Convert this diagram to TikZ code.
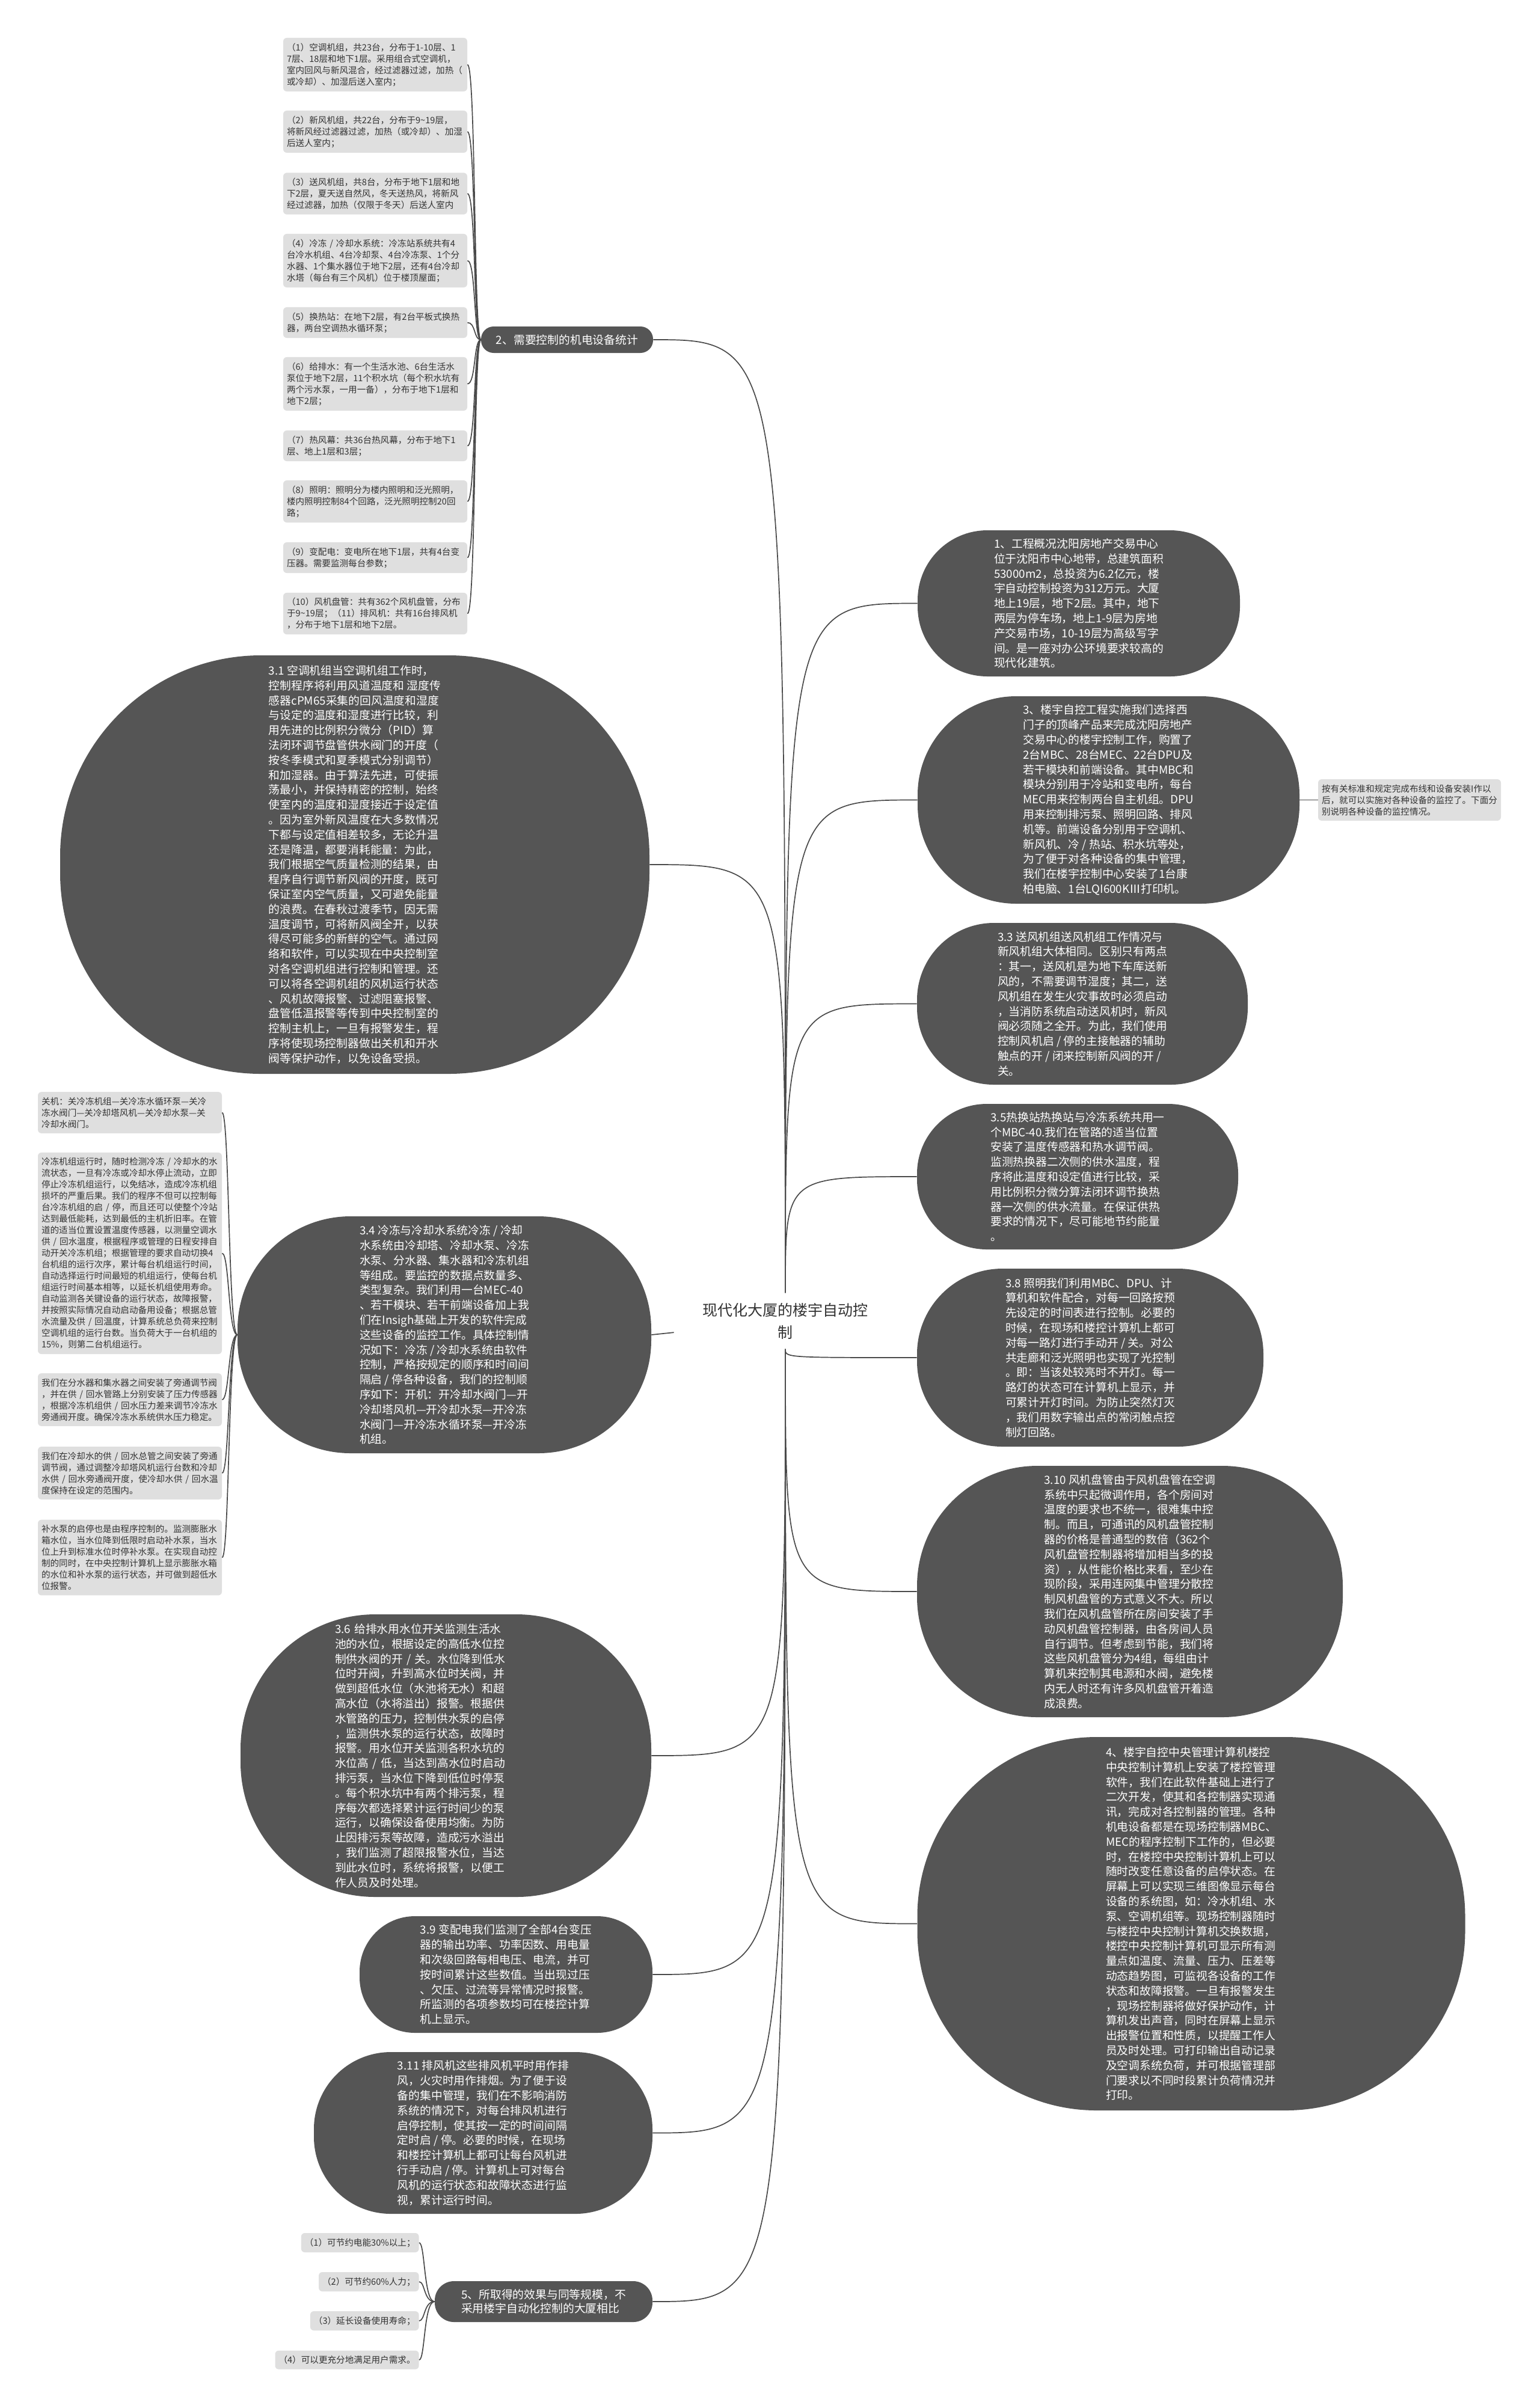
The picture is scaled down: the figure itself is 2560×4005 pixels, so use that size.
\documentclass[tikz,border=0pt]{standalone}
\usepackage{fontspec}
\setmainfont{Noto Sans CJK SC}
\definecolor{darkfill}{HTML}{555555}
\definecolor{leaffill}{HTML}{DFDFDF}
\definecolor{leaftext}{HTML}{333333}
\definecolor{linkgray}{HTML}{4A4A4A}
\def\darkfont{\fontsize{9.4}{12.4}\selectfont}
\def\leaffont{\fontsize{7.3}{9.5}\selectfont}
\def\rootfont{\fontsize{12.5}{18.5}\selectfont}

\begin{document}
\begin{tikzpicture}[x=0.5pt,y=-0.5pt,
    link/.style={draw=linkgray,line width=0.85pt},
    mainbox/.style n args={3}{fill=darkfill,text=white,align=left,font=\darkfont,
        inner sep=0pt,minimum width=#1,minimum height=#2,rounded corners=#3},
    leafbase/.style={fill=leaffill,text=leaftext,rounded corners=3pt,align=left,
        font=\leaffont,inner xsep=3pt,inner ysep=4.3pt},
    leaf/.style={leafbase,text width=147pt},
    rootnode/.style={text=leaftext,align=center,font=\rootfont,
        minimum width=185pt,minimum height=46.5pt}]

    \fill[white] (0,0) rectangle (2560,4005);
    \useasboundingbox (0,0) rectangle (2560,4005);

    % root
    \node[rootnode] (R) at (1306,2197) {现代化大厦的楼宇自动控\\制};

    % left side
    \node[mainbox={143pt}{22pt}{10.5pt}] (A2) at (943,565) {2、需要控制的机电设备统计};

    \node[mainbox={490pt}{348pt}{167pt}] (A31) at (590,1438) {3.1 空调机组当空调机组工作时，\\控制程序将利用风道温度和 湿度传\\感器cPM65采集的回风温度和湿度\\与设定的温度和湿度进行比较，利\\用先进的比例积分微分（PID）算\\法闭环调节盘管供水阀门的开度（\\按冬季模式和夏季模式分别调节）\\和加湿器。由于算法先进，可使振\\荡最小，并保持精密的控制，始终\\使室内的温度和湿度接近于设定值\\。因为室外新风温度在大多数情况\\下都与设定值相差较多，无论升温\\还是降温，都要消耗能量：为此，\\我们根据空气质量检测的结果，由\\程序自行调节新风阀的开度，既可\\保证室内空气质量，又可避免能量\\的浪费。在春秋过渡季节，因无需\\温度调节，可将新风阀全开，以获\\得尽可能多的新鲜的空气。通过网\\络和软件，可以实现在中央控制室\\对各空调机组进行控制和管理。还\\可以将各空调机组的风机运行状态\\、风机故障报警、过滤阻塞报警、\\盘管低温报警等传到中央控制室的\\控制主机上，一旦有报警发生，程\\序将使现场控制器做出关机和开水\\阀等保护动作，以免设备受损。};

    \node[mainbox={344pt}{197pt}{94pt}] (A34) at (739,2220) {3.4 冷冻与冷却水系统冷冻 / 冷却\\水系统由冷却塔、冷却水泵、冷冻\\水泵、分水器、集水器和冷冻机组\\等组成。要监控的数据点数量多、\\类型复杂。我们利用一台MEC-40\\、若干模块、若干前端设备加上我\\们在Insigh基础上开发的软件完成\\这些设备的监控工作。具体控制情\\况如下：冷冻 / 冷却水系统由软件\\控制，严格按规定的顺序和时间间\\隔启 / 停各种设备，我们的控制顺\\序如下：开机：开冷却水阀门—开\\冷却塔风机—开冷却水泵—开冷冻\\水阀门—开冷冻水循环泵—开冷冻\\机组。};

    \node[mainbox={341.5pt}{235pt}{112pt},text width=184.5pt,inner xsep=78.5pt] (A36) at (741.5,2920) {3.6 给排水用水位开关监测生活水\\池的水位，根据设定的高低水位控\\制供水阀的开 / 关。水位降到低水\\位时开阀，升到高水位时关阀，并\\做到超低水位（水池将无水）和超\\高水位（水将溢出）报警。根据供\\水管路的压力，控制供水泵的启停\\，监测供水泵的运行状态，故障时\\报警。用水位开关监测各积水坑的\\水位高 / 低，当达到高水位时启动\\排污泵，当水位下降到低位时停泵\\。每个积水坑中有两个排污泵，程\\序每次都选择累计运行时间少的泵\\运行，以确保设备使用均衡。为防\\止因排污泵等故障，造成污水溢出\\，我们监测了超限报警水位，当达\\到此水位时，系统将报警，以便工\\作人员及时处理。};

    \node[mainbox={243.5pt}{97pt}{46pt}] (A39) at (841.5,3284) {3.9 变配电我们监测了全部4台变压\\器的输出功率、功率因数、用电量\\和次级回路每相电压、电流，并可\\按时间累计这些数值。当出现过压\\、欠压、过流等异常情况时报警。\\所监测的各项参数均可在楼控计算\\机上显示。};

    \node[mainbox={281.5pt}{134.5pt}{64pt}] (A311) at (803.5,3547.5) {3.11 排风机这些排风机平时用作排\\风，火灾时用作排烟。为了便于设\\备的集中管理，我们在不影响消防\\系统的情况下，对每台排风机进行\\启停控制，使其按一定的时间间隔\\定时启 / 停。必要的时候，在现场\\和楼控计算机上都可让每台风机进\\行手动启 / 停。计算机上可对每台\\风机的运行状态和故障状态进行监\\视，累计运行时间。};

    \node[mainbox={181pt}{34pt}{16pt},font=\fontsize{9.4}{11.5}\selectfont] (A5) at (904,3828) {5、所取得的效果与同等规模，不\\采用楼宇自动化控制的大厦相比};

    % right side
    \node[mainbox={268pt}{121.5pt}{58pt}] (A1) at (1794,1003.5) {1、工程概况沈阳房地产交易中心\\位于沈阳市中心地带，总建筑面积\\53000m2，总投资为6.2亿元，楼\\宇自动控制投资为312万元。大厦\\地上19层，地下2层。其中，地下\\两层为停车场，地上1-9层为房地\\产交易市场，10-19层为高级写字\\间。是一座对办公环境要求较高的\\现代化建筑。};

    \node[mainbox={317.5pt}{172.5pt}{82pt}] (A3) at (1843.5,1330.5) {3、楼宇自控工程实施我们选择西\\门子的顶峰产品来完成沈阳房地产\\交易中心的楼宇控制工作，购置了\\2台MBC、28台MEC、22台DPU及\\若干模块和前端设备。其中MBC和\\模块分别用于冷站和变电所，每台\\MEC用来控制两台自主机组。DPU\\用来控制排污泵、照明回路、排风\\机等。前端设备分别用于空调机、\\新风机、冷 / 热站、积水坑等处，\\为了便于对各种设备的集中管理，\\我们在楼宇控制中心安装了1台康\\柏电脑、1台LQI600KⅢ打印机。};

    \node[leaf,text width=146pt] (N) at (2344,1330.5) {按有关标准和规定完成布线和设备安装I作以\\后，就可以实施对各种设备的监控了。下面分\\别说明各种设备的监控情况。};

    \node[mainbox={275pt}{134.5pt}{64pt}] (A33) at (1800,1669.5) {3.3 送风机组送风机组工作情况与\\新风机组大体相同。区别只有两点\\：其一，送风机是为地下车库送新\\风的，不需要调节湿度；其二，送\\风机组在发生火灾事故时必须启动\\，当消防系统启动送风机时，新风\\阀必须随之全开。为此，我们使用\\控制风机启 / 停的主接触器的辅助\\触点的开 / 闭来控制新风阀的开 /\\关。};

    \node[mainbox={267pt}{121pt}{58pt}] (A35) at (1792,1957) {3.5热换站热换站与冷冻系统共用一\\个MBC-40.我们在管路的适当位置\\安装了温度传感器和热水调节阀。\\监测热换器二次侧的供水温度，程\\序将此温度和设定值进行比较，采\\用比例积分微分算法闭环调节换热\\器一次侧的供水流量。在保证供热\\要求的情况下，尽可能地节约能量\\。};

    \node[mainbox={288pt}{148pt}{71pt}] (A38) at (1813,2258) {3.8 照明我们利用MBC、DPU、计\\算机和软件配合，对每一回路按预\\先设定的时间表进行控制。必要的\\时候，在现场和楼控计算机上都可\\对每一路灯进行手动开 / 关。对公\\共走廊和泛光照明也实现了光控制\\。即：当该处较亮时不开灯。每一\\路灯的状态可在计算机上显示，并\\可累计开灯时间。为防止突然灯灭\\，我们用数字输出点的常闭触点控\\制灯回路。};

    \node[mainbox={354pt}{209pt}{100pt}] (A310) at (1879,2647) {3.10 风机盘管由于风机盘管在空调\\系统中只起微调作用，各个房间对\\温度的要求也不统一，很难集中控\\制。而且，可通讯的风机盘管控制\\器的价格是普通型的数倍（362个\\风机盘管控制器将增加相当多的投\\资），从性能价格比来看，至少在\\现阶段，采用连网集中管理分散控\\制风机盘管的方式意义不大。所以\\我们在风机盘管所在房间安装了手\\动风机盘管控制器，由各房间人员\\自行调节。但考虑到节能，我们将\\这些风机盘管分为4组，每组由计\\算机来控制其电源和水阀，避免楼\\内无人时还有许多风机盘管开着造\\成浪费。};

    \node[mainbox={455.5pt}{310.5pt}{149pt}] (A4) at (1981,3199.5) {4、楼宇自控中央管理计算机楼控\\中央控制计算机上安装了楼控管理\\软件，我们在此软件基础上进行了\\二次开发，使其和各控制器实现通\\讯，完成对各控制器的管理。各种\\机电设备都是在现场控制器MBC、\\MEC的程序控制下工作的，但必要\\时，在楼控中央控制计算机上可以\\随时改变任意设备的启停状态。在\\屏幕上可以实现三维图像显示每台\\设备的系统图，如：冷水机组、水\\泵、空调机组等。现场控制器随时\\与楼控中央控制计算机交换数据，\\楼控中央控制计算机可显示所有测\\量点如温度、流量、压力、压差等\\动态趋势图，可监视各设备的工作\\状态和故障报警。一旦有报警发生\\，现场控制器将做好保护动作，计\\算机发出声音，同时在屏幕上显示\\出报警位置和性质，以提醒工作人\\员及时处理。可打印输出自动记录\\及空调系统负荷，并可根据管理部\\门要求以不同时段累计负荷情况并\\打印。};

    % equipment list
    \node[leaf] (B1) at (624,107.5) {（1）空调机组，共23台，分布于1-10层、1\\7层、18层和地下1层。采用组合式空调机，\\室内回风与新风混合，经过滤器过滤，加热（\\或冷却）、加湿后送入室内；};
    \node[leaf] (B2) at (624,219) {（2）新风机组，共22台，分布于9\textasciitilde 19层，\\将新风经过滤器过滤，加热（或冷却）、加湿\\后送人室内；};
    \node[leaf] (B3) at (624,322) {（3）送风机组，共8台，分布于地下1层和地\\下2层，夏天送自然风，冬天送热风，将新风\\经过滤器，加热（仅限于冬天）后送人室内};
    \node[leaf] (B4) at (624,433.5) {（4）冷冻 / 冷却水系统：冷冻站系统共有4\\台冷水机组、4台冷却泵、4台冷冻泵、1个分\\水器、1个集水器位于地下2层，还有4台冷却\\水塔（每台有三个风机）位于楼顶屋面；};
    \node[leaf] (B5) at (624,536.5) {（5）换热站：在地下2层，有2台平板式换热\\器，两台空调热水循环泵；};
    \node[leaf] (B6) at (624,638.5) {（6）给排水：有一个生活水池、6台生活水\\泵位于地下2层，11个积水坑（每个积水坑有\\两个污水泵，一用一备），分布于地下1层和\\地下2层；};
    \node[leaf] (B7) at (624,741.5) {（7）热风幕：共36台热风幕，分布于地下1\\层、地上1层和3层；};
    \node[leaf] (B8) at (624,834) {（8）照明：照明分为楼内照明和泛光照明，\\楼内照明控制84个回路，泛光照明控制20回\\路；};
    \node[leaf] (B9) at (624,927.5) {（9）变配电：变电所在地下1层，共有4台变\\压器。需要监测每台参数；};
    \node[leaf] (B10) at (624,1020.5) {（10）风机盘管：共有362个风机盘管，分布\\于9\textasciitilde 19层；（11）排风机：共有16台排风机\\，分布于地下1层和地下2层。};

    % chiller details
    \node[leaf] (C1) at (216,1850.5) {关机：关冷冻机组—关冷冻水循环泵—关冷\\冻水阀门—关冷却塔风机—关冷却水泵—关\\冷却水阀门。};
    \node[leaf] (C2) at (216,2084.5) {冷冻机组运行时，随时检测冷冻 / 冷却水的水\\流状态，一旦有冷冻或冷却水停止流动，立即\\停止冷冻机组运行，以免结冰，造成冷冻机组\\损坏的严重后果。我们的程序不但可以控制每\\台冷冻机组的启 / 停，而且还可以使整个冷站\\达到最低能耗，达到最低的主机折旧率。在管\\道的适当位置设置温度传感器，以测量空调水\\供 / 回水温度，根据程序或管理的日程安排自\\动开关冷冻机组；根据管理的要求自动切换4\\台机组的运行次序，累计每台机组运行时间，\\自动选择运行时间最短的机组运行，使每台机\\组运行时间基本相等，以延长机组使用寿命。\\自动监测各关键设备的运行状态，故障报警，\\并按照实际情况自动启动备用设备；根据总管\\水流量及供 / 回温度，计算系统总负荷来控制\\空调机组的运行台数。当负荷大于一台机组的\\15\%，则第二台机组运行。};
    \node[leaf] (C3) at (216,2328) {我们在分水器和集水器之间安装了旁通调节阀\\，并在供 / 回水管路上分别安装了压力传感器\\，根据冷冻机组供 / 回水压力差来调节冷冻水\\旁通阀开度。确保冷冻水系统供水压力稳定。};
    \node[leaf] (C4) at (216,2450) {我们在冷却水的供 / 回水总管之间安装了旁通\\调节阀，通过调整冷却塔风机运行台数和冷却\\水供 / 回水旁通阀开度，使冷却水供 / 回水温\\度保持在设定的范围内。};
    \node[leaf] (C5) at (216,2590.5) {补水泵的启停也是由程序控制的。监测膨胀水\\箱水位，当水位降到低限时启动补水泵，当水\\位上升到标准水位时停补水泵。在实现自动控\\制的同时，在中央控制计算机上显示膨胀水箱\\的水位和补水泵的运行状态，并可做到超低水\\位报警。};

    % results
    \node[leafbase,anchor=east] (D1) at (697,3730) {（1）可节约电能30\%以上；};
    \node[leafbase,anchor=east] (D2) at (697,3795) {（2）可节约60\%人力；};
    \node[leafbase,anchor=east] (D3) at (697,3860) {（3）延长设备使用寿命；};
    \node[leafbase,anchor=east] (D4) at (697,3925) {（4）可以更充分地满足用户需求。};

    % connectors from the root
    \foreach \n in {A2,A31,A36,A39,A311,A5}
        \draw[link] (R) .. controls (R.center |- \n.east) .. (\n.east);
    \draw[link] (R) -- (A34.east);
    \foreach \n in {A1,A3,A33,A35,A38,A310,A4}
        \draw[link] (R) .. controls (R.center |- \n.west) .. (\n.west);

    % connectors to the leaves
    \foreach \i in {1,...,10}
        \draw[link] (A2.west) .. controls +(-12,0) and +(14,0) .. (B\i.east);
    \foreach \i in {1,...,5}
        \draw[link] (A34.west) .. controls +(-15,0) and +(12,0) .. (C\i.east);
    \foreach \i in {1,...,4}
        \draw[link] (A5.west) .. controls +(-18,0) and +(10,0) .. (D\i.east);
    \draw[link] (A3.east) -- (N.west);

\end{tikzpicture}
\end{document}
